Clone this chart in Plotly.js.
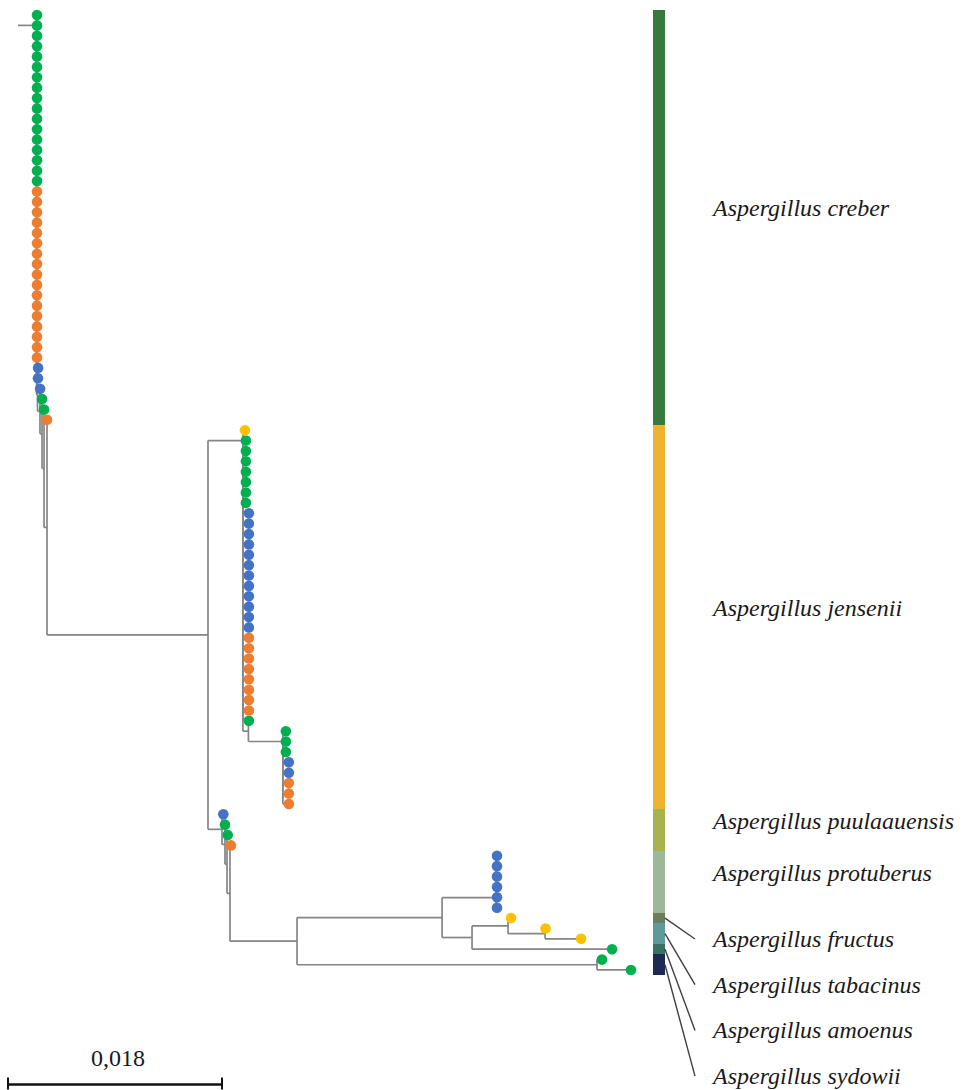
<!DOCTYPE html>
<html>
<head>
<meta charset="utf-8">
<script src="https://cdn.plot.ly/plotly-3.0.1.min.js"></script>
<style>
  html, body { margin: 0; padding: 0; background: #ffffff; }
  #chart { width: 967px; height: 1090px; }
</style>
</head>
<body>
<div id="chart"></div>
<script>
// ---------------- DATA ----------------
// Tip labels: first letter = sample group colour (G green, O orange, B blue, Y yellow)
// Branch lengths in substitutions per site.
const creberNewick =
  "(G1:4e-5,(G2:4e-5,(G3:4e-5,(G4:4e-5,(G5:4e-5,(G6:4e-5,(G7:4e-5,(G8:4e-5,(G9:4e-5,(G10:4e-5," +
  "(G11:4e-5,(G12:4e-5,(G13:4e-5,(G14:4e-5,(G15:4e-5,(G16:4e-5,(G17:4e-5," +
  "(O1:4e-5,(O2:4e-5,(O3:4e-5,(O4:4e-5,(O5:4e-5,(O6:4e-5,(O7:4e-5,(O8:4e-5,(O9:4e-5,(O10:4e-5," +
  "(O11:4e-5,(O12:4e-5,(O13:4e-5,(O14:4e-5,(O15:4e-5,(O16:4e-5,(O17:4e-5," +
  "(B1:13e-5,(B2:4e-5,(B3:1e-5,(G18:0,(G19:0,(O18:0,@JL:0.01354):25e-5):17e-5):17e-5):21e-5):8e-5)" +
  ")))))))))) )))))))))) )))))))))) ))))";

const jenseniiNewick =
  "(Y1:17e-5,(G20:25e-5,(G21:25e-5,(G22:25e-5,(G23:25e-5,(G24:25e-5,(G25:25e-5,(G26:25e-5," +
  "(B4:5e-4,(B5:5e-4,(B6:5e-4,(B7:5e-4,(B8:5e-4,(B9:5e-4,(B10:5e-4,(B11:5e-4,(B12:5e-4,(B13:5e-4,(B14:5e-4,(B15:5e-4," +
  "(O19:5e-4,(O20:5e-4,(O21:5e-4,(O22:5e-4,(O23:5e-4,(O24:5e-4,(O25:5e-4,(O26:5e-4," +
  "(G27:4e-5,@K:0.0029):46e-5" +
  ")))))))))) )))))))))) ))))))))";

const subcladeKNewick =
  "(G28:25e-5,(G29:25e-5,(G30:25e-5,(B16:5e-4,(B17:5e-4,(O27:5e-4,(O28:5e-4,O29:5e-4)))))))";

const lowerNewick =
  "(B18:11e-5,(G31:0,(G32:6e-5,(O30:8e-5,@M:0.00564):25e-5):17e-5):25e-5)";

const protuberusNewick = "(((((B19:8e-5,B20:8e-5),B21:8e-5),B22:8e-5),B23:8e-5),B24:8e-5)";
const cladeMNewick =
  "((@P:0.00454," +
  "((Y2:25e-5,(Y3:4e-5,Y4:0.00303):0.00311):0.00303,G33:0.01178):0.00252):0.0122," +
  "(G34:42e-5,G35:0.00286):0.02523)";

const jlNewick = "(@J:0.00294,@L:0.00118)";
const rootLength = 0.00156;

const groupColors = { G: "#00B050", O: "#ED7D31", B: "#4472C4", Y: "#FFC000" };

const speciesNames = [
  "Aspergillus creber", "Aspergillus jensenii", "Aspergillus puulaauensis",
  "Aspergillus protuberus", "Aspergillus fructus", "Aspergillus tabacinus",
  "Aspergillus amoenus", "Aspergillus sydowii"
];
const speciesTipCounts = [40, 37, 4, 6, 1, 2, 1, 2];
const speciesColors = ["#387A3C", "#EFB42F", "#A8B24E", "#9DB898", "#6C7F5A", "#5E9A9B", "#3B7064", "#1D2A52"];

const scaleBarLength = 0.018;
const scaleBarLabel = "0,018";

// ---------------- BUILD TREE ----------------
const fullNewick = "(" + creberNewick
  .replace("@JL", jlNewick
    .replace("@J", jenseniiNewick.replace("@K", subcladeKNewick))
    .replace("@L", lowerNewick.replace("@M", cladeMNewick.replace("@P", protuberusNewick))))
  + ":" + rootLength + ");";

function parseNewick(s) {
  let i = 0;
  const ws = () => { while (i < s.length && /\s/.test(s[i])) i++; };
  function node() {
    const n = { children: [], name: "", len: 0 };
    ws();
    if (s[i] === "(") {
      i++;
      n.children.push(node()); ws();
      while (s[i] === ",") { i++; n.children.push(node()); ws(); }
      if (s[i] !== ")") throw new Error("Expected ) at " + i + " got " + s[i]);
      i++;
    }
    ws();
    let name = "";
    while (i < s.length && !/[:,();\s]/.test(s[i])) name += s[i++];
    n.name = name; ws();
    if (s[i] === ":") {
      i++; let num = "";
      while (i < s.length && /[0-9eE.+\-]/.test(s[i])) num += s[i++];
      n.len = parseFloat(num);
    }
    return n;
  }
  const r = node();
  ws();
  if (s[i] !== ";") throw new Error("Unbalanced Newick near " + i);
  return r;
}

const root = parseNewick(fullNewick);
const tips = [];
function layout(n, px) {
  n.x = px + n.len;
  if (!n.children.length) { n.y = tips.length; tips.push(n); }
  else {
    n.children.forEach(c => layout(c, n.x));
    n.y = (n.children[0].y + n.children[n.children.length - 1].y) / 2;
  }
}
root.len = 0;
layout(root, 0);

const lx = [], ly = [];
function segs(n, parentX) {
  if (parentX !== null) { lx.push(parentX, n.x, null); ly.push(n.y, n.y, null); }
  if (n.children.length) {
    lx.push(n.x, n.x, null);
    ly.push(n.children[0].y, n.children[n.children.length - 1].y, null);
    n.children.forEach(c => segs(c, n.x));
  }
}
segs(root, null);

// ---------------- TRACES ----------------
const traces = [{
  type: "scatter", mode: "lines", x: lx, y: ly,
  line: { color: "#858585", width: 1.7 }, hoverinfo: "skip", showlegend: false
}];

["G", "O", "B", "Y"].forEach(g => {
  const t = tips.filter(d => d.name[0] === g);
  traces.push({
    type: "scatter", mode: "markers",
    x: t.map(d => d.x), y: t.map(d => d.y),
    marker: { color: groupColors[g], size: 10.6, line: { width: 0 } },
    hoverinfo: "skip", showlegend: false
  });
});

// species colour column
const centers = [];
let acc = 0;
speciesTipCounts.forEach(c => { centers.push(acc - 0.5 + c / 2); acc += c; });
traces.push({
  type: "bar", orientation: "h", xaxis: "x2", yaxis: "y",
  y: centers, x: speciesTipCounts.map(() => 1), base: 0,
  width: speciesTipCounts,
  marker: { color: speciesColors, line: { width: 0 } },
  hoverinfo: "skip", showlegend: false
});

// ---------------- LAYOUT ----------------
const W = 967, H = 1090;
const pxPerUnit = 11889, rootPx = 18;
const tipTopPx = 15, tipStepPx = 10.38;
const xRange = [-rootPx / pxPerUnit, (W - rootPx) / pxPerUnit];
const yRange = [(H - tipTopPx) / tipStepPx, -tipTopPx / tipStepPx];
const barLeft = 652.7 / W, barRight = 665 / W;
const labelX = 709 / W;

const annotations = [];
const shapes = [];
const labelFont = { family: "Liberation Serif, Times New Roman, serif", size: 24, color: "#1a1a1a" };
const calloutStartPx = 939, calloutStepPx = 45.7;
speciesNames.forEach((name, k) => {
  const callout = k >= 4;
  let yLab;
  if (!callout) yLab = centers[k];
  else yLab = (calloutStartPx + (k - 4) * calloutStepPx - tipTopPx) / tipStepPx;
  annotations.push({
    x: labelX, xref: "paper", y: yLab, yref: "y", xanchor: "left", yanchor: "middle",
    text: "<i>" + name + "</i>", showarrow: false, font: labelFont,
    yshift: callout ? 0 : 9
  });
  if (callout) {
    shapes.push({
      type: "line", xref: "paper", yref: "y",
      x0: barRight, y0: centers[k], x1: 695 / W, y1: yLab,
      line: { color: "#404040", width: 1.4 }
    });
  }
});

// scale bar
const sbStart = (8 - rootPx) / pxPerUnit;
const sbY = 1 - 1084.5 / H;
shapes.push({ type: "line", xref: "x", yref: "paper", x0: sbStart, x1: sbStart + scaleBarLength, y0: sbY, y1: sbY, line: { color: "#111", width: 2.6 } });
[sbStart, sbStart + scaleBarLength].forEach(xx => {
  shapes.push({ type: "line", xref: "x", yref: "paper", x0: xx, x1: xx, y0: 1 - 1077.5 / H, y1: 1 - 1089.5 / H, line: { color: "#111", width: 2 } });
});
annotations.push({
  x: sbStart + scaleBarLength / 2, xref: "x", y: 1 - 1058 / H, yref: "paper",
  xanchor: "center", yanchor: "middle", text: scaleBarLabel, showarrow: false,
  xshift: 3,
  font: { family: "Liberation Serif, Times New Roman, serif", size: 24, color: "#1a1a1a" }
});

const layoutObj = {
  width: W, height: H,
  margin: { l: 0, r: 0, t: 0, b: 0, pad: 0 },
  paper_bgcolor: "#ffffff", plot_bgcolor: "#ffffff",
  showlegend: false,
  xaxis: { range: xRange, domain: [0, 1], visible: false, fixedrange: true },
  xaxis2: { range: [0, 1], domain: [barLeft, barRight], anchor: "y", visible: false, fixedrange: true },
  yaxis: { range: yRange, visible: false, fixedrange: true },
  bargap: 0,
  annotations: annotations,
  shapes: shapes
};

Plotly.newPlot("chart", traces, layoutObj, { staticPlot: true, displayModeBar: false });
</script>
</body>
</html>
